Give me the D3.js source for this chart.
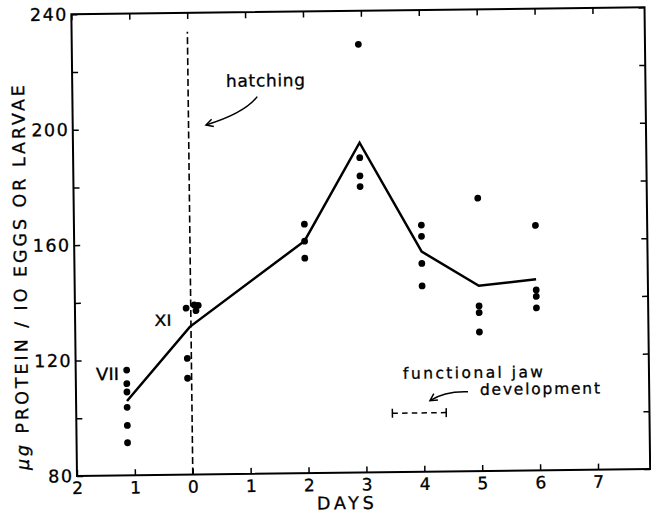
<!DOCTYPE html>
<html><head><meta charset="utf-8">
<script src="https://cdn.jsdelivr.net/npm/d3@7"></script>
<style>
html,body{margin:0;padding:0;background:#fff;}
svg{display:block;}
text{font-family:"DejaVu Sans",sans-serif;fill:#000;stroke:#000;stroke-width:0.3px;}
</style></head><body>
<svg id="chart" width="651" height="514"></svg>
<script>
// ---- data ----
const dayTicks = [-2, -1, 0, 1, 2, 3, 4, 5, 6, 7];
const dayTickLabels = ["2", "1", "0", "1", "2", "3", "4", "5", "6", "7"];
const valueTicks = [80, 100, 120, 140, 160, 180, 200, 220, 240];
const valueTickLabels = ["80", "", "120", "", "160", "", "200", "", "240"];

// individual determinations (day, µg protein / 10 eggs or larvae)
const pointDay = [
  -1.12, -1.12, -1.12, -1.12, -1.12, -1.12,
  -0.08, 0.06, 0.13, 0.09, -0.07, -0.07,
  1.98, 1.98, 1.98,
  2.95, 2.95, 2.95, 2.95,
  4.0, 4.0, 4.0, 4.0,
  4.98, 4.98, 4.98, 4.98,
  5.97, 5.97, 5.97, 5.97
];
const pointValue = [
  116.5, 111.8, 108.9, 103.6, 97.3, 91.3,
  137.7, 138.8, 138.6, 136.8, 120.3, 113.4,
  166.3, 160.4, 154.5,
  228.4, 189.1, 182.8, 179.1,
  165.5, 161.6, 152.2, 144.4,
  174.6, 137.2, 134.9, 128.2,
  164.9, 142.5, 140.3, 136.3
];
// mean curve
const meanDay = [-1.12, -0.02, 1.98, 2.95, 4.0, 4.98, 5.97];
const meanValue = [105.8, 131.2, 160.5, 194.3, 156.3, 144.2, 146.2];

// hatching and functional jaw development period
const hatchingDay = 0;
const hatchingTop = 233.5;
const jawStartDay = 3.46, jawEndDay = 4.39, jawLevel = 100.4;

// ---- drawing ----
const x = d3.scaleLinear().domain([-2, 7.9]).range([77, 650.2]);
const y = d3.scaleLinear().domain([80, 240]).range([476, 14.3]);
const FONT = "DejaVu Sans";

const svg = d3.select("#chart");
const g = svg.append("g").attr("transform", "rotate(-0.7,77,476)");

// frame
g.append("rect")
  .attr("x", x(-2)).attr("y", y(240))
  .attr("width", x(7.9) - x(-2)).attr("height", y(80) - y(240))
  .attr("fill", "none").attr("stroke", "#000").attr("stroke-width", 2);

function styleAxis(a, size) {
  a.select(".domain").remove();
  a.attr("font-family", FONT).attr("font-size", size);
  a.selectAll(".tick line").attr("stroke", "#000").attr("stroke-width", 1.5);
  a.selectAll(".tick text").attr("fill", "#000");
}

// bottom axis
g.append("g").attr("transform", `translate(0,${y(80)})`)
  .call(d3.axisBottom(x).tickValues(dayTicks)
    .tickFormat((d, i) => dayTickLabels[i]).tickSize(-6).tickPadding(6))
  .call(a => styleAxis(a, 17));
// top axis (ticks only)
g.append("g").attr("transform", `translate(0,${y(240)})`)
  .call(d3.axisTop(x).tickValues(dayTicks).tickFormat("").tickSize(-6))
  .call(a => styleAxis(a, 10));
// left axis
g.append("g").attr("transform", `translate(${x(-2)},0)`)
  .call(d3.axisLeft(y).tickValues(valueTicks)
    .tickFormat((d, i) => valueTickLabels[i]).tickSize(-6).tickPadding(5))
  .call(a => styleAxis(a, 17.5))
  .call(a => a.selectAll(".tick text").attr("letter-spacing", 1.5).attr("dx", 1.5));
// right axis (ticks only)
g.append("g").attr("transform", `translate(${x(7.9)},0)`)
  .call(d3.axisRight(y).tickValues(valueTicks).tickFormat("").tickSize(-6))
  .call(a => styleAxis(a, 10));

// axis titles
g.append("text")
  .attr("x", 345).attr("y", 506.5)
  .attr("text-anchor", "middle").attr("dominant-baseline", "central")
  .attr("font-size", 17.5).attr("textLength", 57).attr("lengthAdjust", "spacing")
  .text("DAYS");

const yt = g.append("text")
  .attr("transform", "translate(23,277) rotate(-90)")
  .attr("text-anchor", "middle").attr("dominant-baseline", "central")
  .attr("font-size", 17.5).attr("textLength", 385).attr("lengthAdjust", "spacing");
yt.append("tspan").attr("font-style", "italic").text("μg");
yt.append("tspan").text(" PROTEIN / IO EGGS OR LARVAE");

// hatching line
g.append("line")
  .attr("x1", x(hatchingDay)).attr("x2", x(hatchingDay))
  .attr("y1", y(80)).attr("y2", y(hatchingTop))
  .attr("stroke", "#000").attr("stroke-width", 1.6)
  .attr("stroke-dasharray", "7,3.5");

// mean line
const line = d3.line().x(d => x(d[0])).y(d => y(d[1]));
g.append("path")
  .datum(meanDay.map((d, i) => [d, meanValue[i]]))
  .attr("d", line)
  .attr("fill", "none").attr("stroke", "#000").attr("stroke-width", 2.5)
  .attr("stroke-linejoin", "miter");

// points
g.selectAll("circle.pt")
  .data(pointDay.map((d, i) => [d, pointValue[i]]))
  .join("circle").attr("class", "pt")
  .attr("cx", d => x(d[0])).attr("cy", d => y(d[1]))
  .attr("r", 3.4).attr("fill", "#000");

// stage labels
g.append("text").attr("x", x(-1.452)).attr("y", y(115.2))
  .attr("text-anchor", "middle").attr("dominant-baseline", "central")
  .attr("font-size", 17).attr("textLength", 23).attr("lengthAdjust", "spacingAndGlyphs")
  .text("VII");
g.append("text").attr("x", x(-0.482)).attr("y", y(133.4))
  .attr("text-anchor", "middle").attr("dominant-baseline", "central")
  .attr("font-size", 15.5).attr("textLength", 17).attr("lengthAdjust", "spacingAndGlyphs")
  .text("XI");

// annotation arrows
function arrow(p0, c, p1) {
  const P0 = [x(p0[0]), y(p0[1])], C = [x(c[0]), y(c[1])], P1 = [x(p1[0]), y(p1[1])];
  g.append("path")
    .attr("d", `M${P0[0]},${P0[1]} Q${C[0]},${C[1]} ${P1[0]},${P1[1]}`)
    .attr("fill", "none").attr("stroke", "#000").attr("stroke-width", 1.5);
  const ang = Math.atan2(P1[1] - C[1], P1[0] - C[0]);
  const L = 8, s = 0.5;
  const a1 = ang + Math.PI - s, a2 = ang + Math.PI + s;
  g.append("path")
    .attr("d", `M${P1[0] + L * Math.cos(a1)},${P1[1] + L * Math.sin(a1)} L${P1[0]},${P1[1]} L${P1[0] + L * Math.cos(a2)},${P1[1] + L * Math.sin(a2)}`)
    .attr("fill", "none").attr("stroke", "#000").attr("stroke-width", 1.5);
}

g.append("text").attr("x", x(0.656)).attr("y", y(214.2))
  .attr("font-size", 17).attr("textLength", 79).attr("lengthAdjust", "spacing")
  .text("hatching");
arrow([1.193, 210.7], [0.967, 205.0], [0.302, 201.1]);

g.append("text").attr("x", x(3.651)).attr("y", y(112.3))
  .attr("font-size", 15.5).attr("textLength", 140).attr("lengthAdjust", "spacing")
  .text("functional jaw");
g.append("text").attr("x", x(4.977)).attr("y", y(106.4))
  .attr("font-size", 15.5).attr("textLength", 120).attr("lengthAdjust", "spacing")
  .text("development");
arrow([4.77, 107.5], [4.373, 107.9], [4.112, 104.6]);

// jaw development bar
g.append("line")
  .attr("x1", x(jawStartDay)).attr("x2", x(jawEndDay))
  .attr("y1", y(jawLevel)).attr("y2", y(jawLevel))
  .attr("stroke", "#000").attr("stroke-width", 1.5)
  .attr("stroke-dasharray", "5.5,4.2");
[jawStartDay, jawEndDay].forEach(d => {
  g.append("line")
    .attr("x1", x(d)).attr("x2", x(d))
    .attr("y1", y(jawLevel) - 4.5).attr("y2", y(jawLevel) + 4.5)
    .attr("stroke", "#000").attr("stroke-width", 1.5);
});
</script>
</body></html>
